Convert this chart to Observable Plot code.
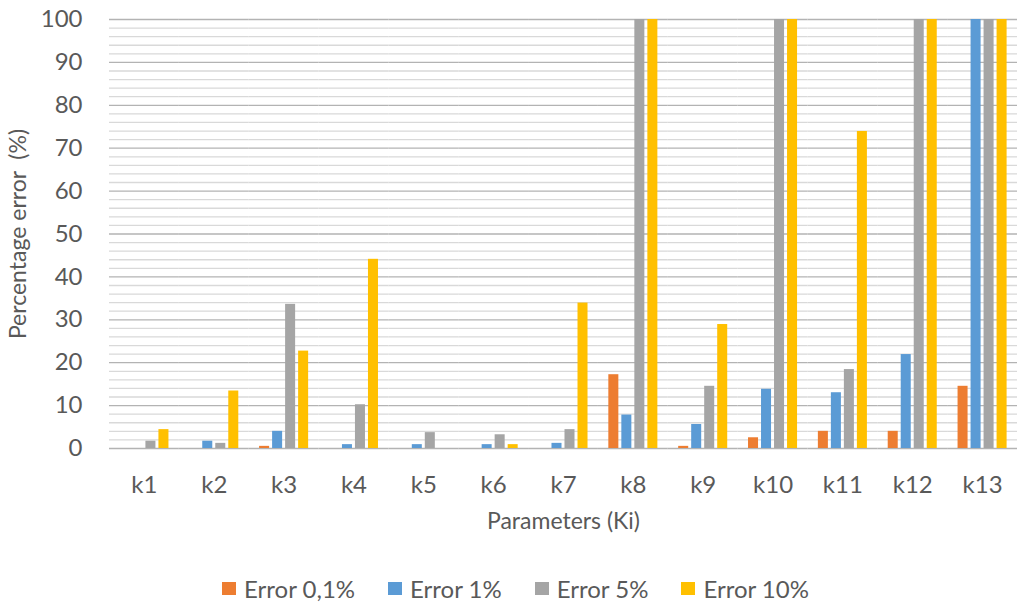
<!DOCTYPE html>
<html>
<head>
<meta charset="utf-8">
<script src="https://cdn.jsdelivr.net/npm/d3@7"></script>
<script src="https://cdn.jsdelivr.net/npm/@observablehq/plot@0.6"></script>
<style>
  body { margin: 0; background: #fff; font-family: Lato, "Open Sans", sans-serif; }
  #chart { width: 1017px; }
  .legend { position: absolute; left: 0; top: 576px; width: 1017px; display: flex; justify-content: center; gap: 33px; height: 24px; align-items: center; font-size: 24px; color: #595959; padding-left: 14px; box-sizing: border-box; }
  .legend span.sw { display: inline-block; width: 14px; height: 13px; margin-right: 8px; }
  .legend div { display: flex; align-items: center; }
</style>
</head>
<body>
<div id="chart"></div>
<script>
const params = ["k1","k2","k3","k4","k5","k6","k7","k8","k9","k10","k11","k12","k13"];
const seriesNames = ["Error 0,1%", "Error 1%", "Error 5%", "Error 10%"];
const seriesColors = ["#ED7D31", "#5B9BD5", "#A5A5A5", "#FFC000"];
const err01 = [0, 0, 0.5, 0, 0, 0, 0, 17.2, 0.5, 2.5, 4.0, 4.0, 14.5];
const err1  = [0, 1.7, 4.0, 0.9, 0.9, 0.9, 1.2, 7.8, 5.6, 13.8, 13.0, 21.9, 100];
const err5  = [1.7, 1.2, 33.6, 10.2, 3.7, 3.2, 4.4, 100, 14.5, 100, 18.4, 100, 100];
const err10 = [4.4, 13.4, 22.7, 44.1, 0, 0.9, 33.9, 100, 28.9, 100, 73.9, 100, 100];
const majorTicks = [0, 10, 20, 30, 40, 50, 60, 70, 80, 90, 100];
const minorTicks = d3.range(0, 101, 2).filter(v => v % 10 !== 0);

const seriesValues = [err01, err1, err5, err10];
const data = [];
params.forEach((k, i) => {
  seriesNames.forEach((s, j) => data.push({k, s, v: seriesValues[j][i]}));
});

const chart = Plot.plot({
  width: 1017,
  height: 545,
  marginTop: 19,
  marginBottom: 97,
  marginLeft: 109,
  marginRight: 0,
  style: {fontFamily: "Lato, 'Open Sans', sans-serif", fontSize: "24px", color: "#595959", background: "#fff"},
  fx: {domain: params, padding: 0, round: false, axis: "bottom", tickSize: 0, tickPadding: 27, label: "Parameters (Ki)", labelAnchor: "center", labelOffset: 80, labelArrow: "none"},
  x: {domain: seriesNames, round: false, paddingInner: 0.23, paddingOuter: 0.8, axis: null},
  y: {domain: [0, 100], ticks: majorTicks, tickSize: 0, tickPadding: 27, label: "Percentage error  (%)", labelAnchor: "center", labelOffset: 100, labelArrow: "none"},
  color: {domain: seriesNames, range: seriesColors},
  marks: [
    Plot.ruleY(minorTicks, {stroke: "#d9d9d9", strokeWidth: 1.3, strokeOpacity: 1}),
    Plot.ruleY(majorTicks, {stroke: "#b3b3b3", strokeWidth: 1.3, strokeOpacity: 1}),
    Plot.barY(data, {fx: "k", x: "s", y: "v", fill: "s"})
  ]
});
document.getElementById("chart").appendChild(chart);
chart.querySelectorAll("[aria-label$='axis label'] text").forEach(t => t.style.fontSize = "23px");

const legend = document.createElement("div");
legend.className = "legend";
seriesNames.forEach((s, i) => {
  const item = document.createElement("div");
  const sw = document.createElement("span");
  sw.className = "sw";
  sw.style.background = seriesColors[i];
  item.appendChild(sw);
  item.appendChild(document.createTextNode(s));
  legend.appendChild(item);
});
document.body.appendChild(legend);
</script>
</body>
</html>
